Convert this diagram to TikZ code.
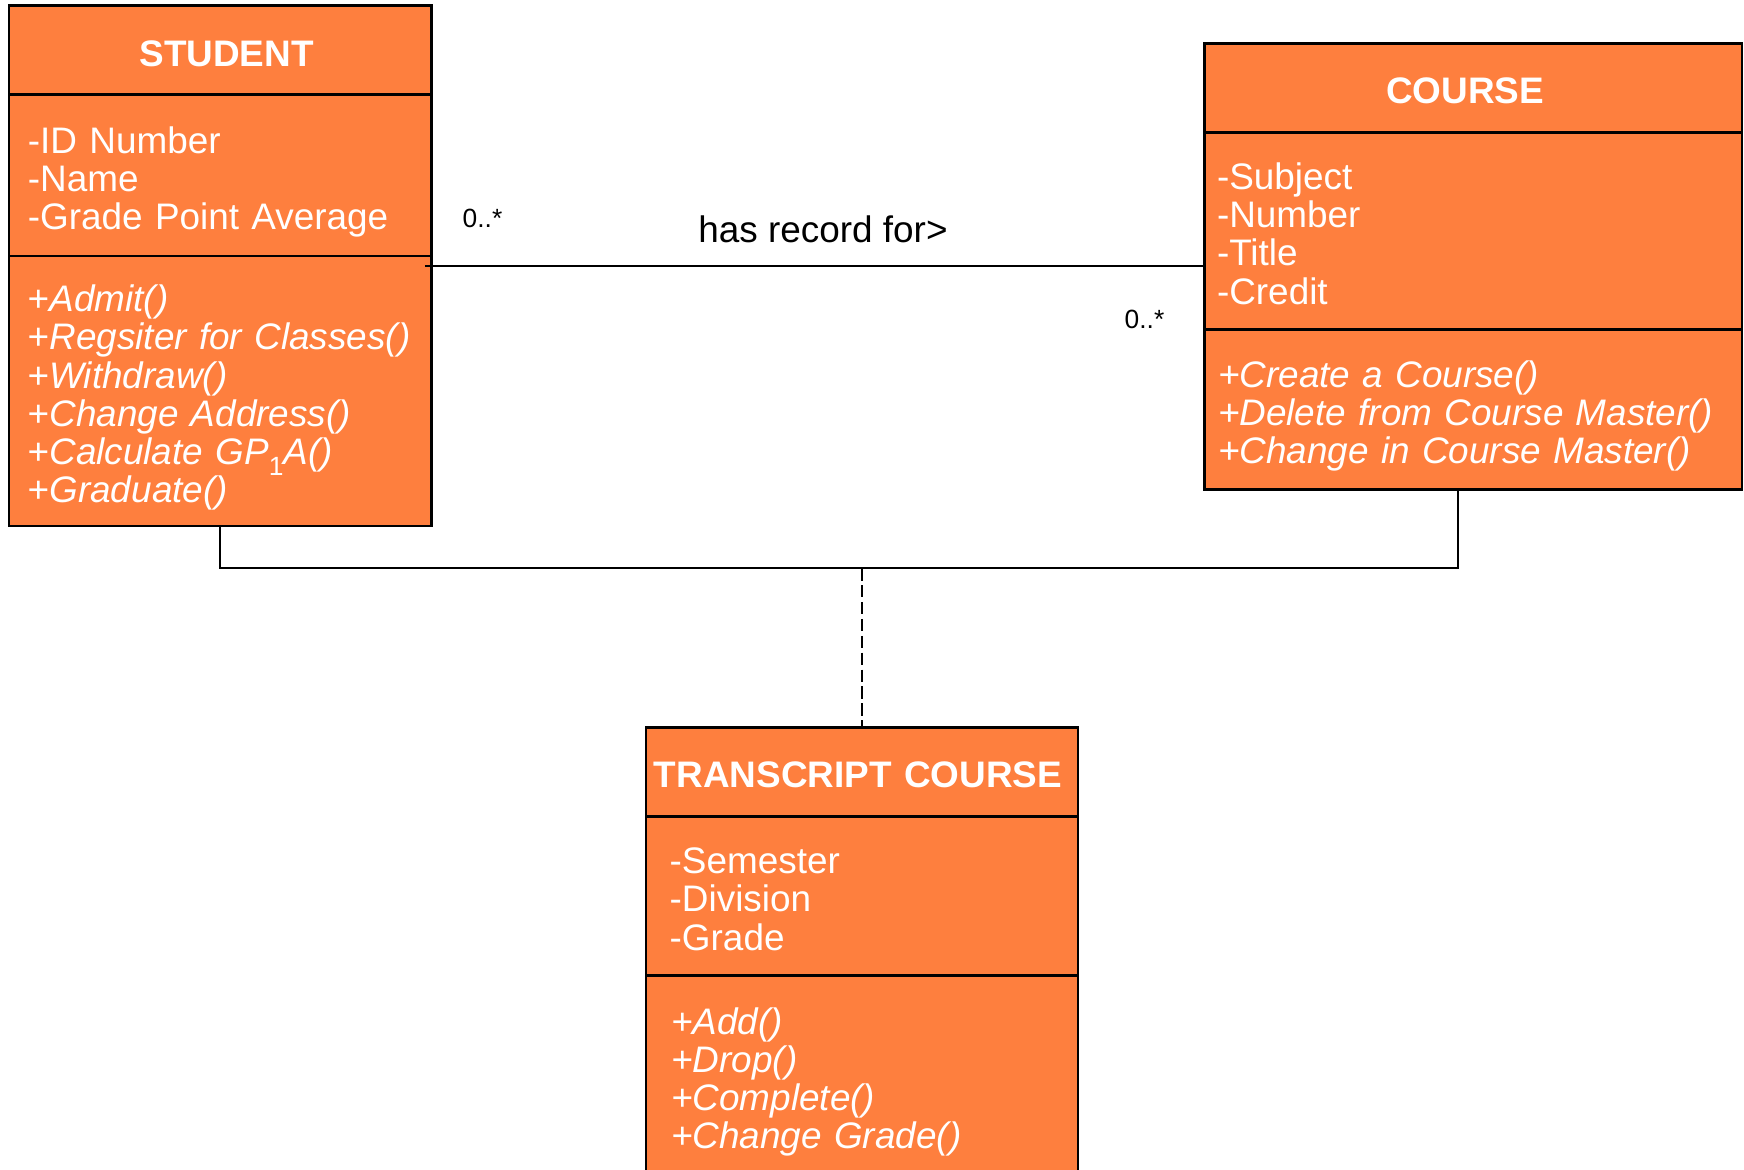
\documentclass[tikz,border=0pt]{standalone}
\usepackage{fontspec}
\setmainfont{Liberation Sans}
\usepackage{xcolor}
\usepackage{tikz}
\usetikzlibrary{positioning,calc}

\definecolor{umlorange}{RGB}{254,127,62}

\tikzset{
    classbox/.style={draw=black, line width=1.3pt, fill=umlorange, text=white,
        inner ysep=0pt, outer sep=0pt, anchor=north west, align=left,
        font=\fontsize{21}{21.7}\selectfont,
        execute at begin node={\rule{0pt}{22.7pt}},
        execute at end node={\rule[-4.5pt]{0pt}{4.5pt}}},
    classtitle/.style={classbox, inner xsep=0pt, align=center,
        minimum height=1.78cm, font=\bfseries\fontsize{21}{22}\selectfont,
        execute at begin node={\rule{0pt}{18.8pt}},
        execute at end node={}},
    methodbox/.style={classbox, font=\itshape\fontsize{21}{21.7}\selectfont},
    assoc/.style={draw=black, line width=1.1pt},
    mult/.style={font=\fontsize{15}{16}\selectfont, inner sep=0pt},
    rolename/.style={font=\fontsize{21}{22}\selectfont, inner sep=0pt}
}
% lowered index digit
\newcommand{\lowidx}[1]{\raisebox{-0.3em}{\upshape\fontsize{15}{15}\selectfont #1}}

\begin{document}
\begin{tikzpicture}
    \clip (0,0) rectangle (34.88,23.38);
    \fill[white] (0,0) rectangle (34.88,23.38);

    % student class
    \node[classtitle, text width=8.45cm] (stutitle) at (0.178,23.268) {\hspace*{0.26cm}STUDENT};
    \node[classbox, text width=7.69cm, inner xsep=0.38cm, minimum height=3.23cm,
        below=0pt of stutitle] (stuattr) {-ID Number\\-Name\\-Grade Point Average};
    \node[methodbox, text width=7.69cm, inner xsep=0.38cm, minimum height=5.40cm,
        below=0pt of stuattr] (stumeth) {+Admit()\\+Regsiter for Classes()\\+Withdraw()\\
        +Change Address()\\+Calculate GP\lowidx{1}A()\\+Graduate()};

    % course class
    \node[classtitle, text width=10.75cm] (crstitle) at (24.09,22.512) {\hspace*{-0.32cm}COURSE};
    \node[classbox, text width=10.25cm, inner xsep=0.25cm, minimum height=3.94cm,
        below=0pt of crstitle] (crsattr) {-Subject\\-Number\\-Title\\-Credit};
    \node[methodbox, text width=10.21cm, inner xsep=0.27cm, minimum height=3.20cm,
        below=0pt of crsattr] (crsmeth) {+Create a Course()\\+Delete from Course Master()\\
        +Change in Course Master()};

    % association class
    \node[classtitle, text width=8.63cm] (trtitle) at (12.924,8.832) {\hspace*{-0.16cm}TRANSCRIPT COURSE};
    \node[classbox, text width=7.69cm, inner xsep=0.47cm, minimum height=3.18cm,
        below=0pt of trtitle] (trattr) {-Semester\\-Division\\-Grade};
    \node[methodbox, text width=7.63cm, inner xsep=0.5cm, minimum height=4.0cm,
        below=0pt of trattr] (trmeth) {+Add()\\+Drop()\\+Complete()\\+Change Grade()};

    % association student -- course
    \coordinate (assocL) at ([shift={(-0.13,-0.2)}]stumeth.north east);
    \draw[assoc] (assocL) -- (assocL -| crsattr.west);
    \node[mult] (multL) at (9.65,19.02) {0..*};
    \node[mult] (multR) at (22.89,17.0) {0..*};
    \node[rolename] (assocname) at (16.46,18.8) {has record for>};

    % link to the association class
    \draw[assoc] (stumeth.south) -- ++(0,-0.844) coordinate (bendL)
        -| ([xshift=-0.3cm]crsmeth.south);
    \draw[assoc, line width=1.3pt, dash pattern=on 7pt off 2.6pt]
        (trtitle.north |- bendL) -- (trtitle.north);
\end{tikzpicture}
\end{document}
